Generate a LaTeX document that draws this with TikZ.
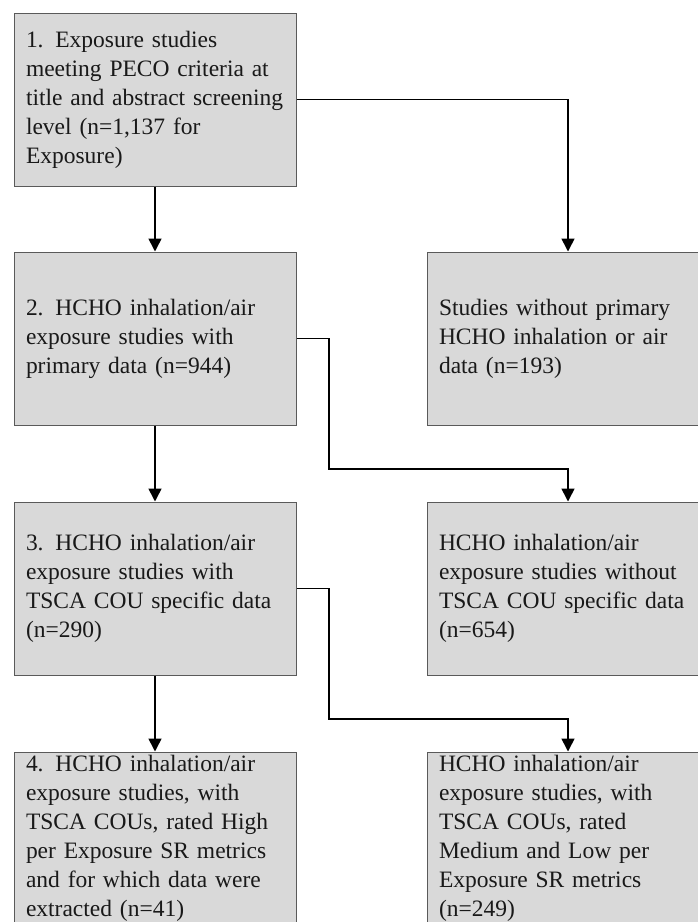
\documentclass[tikz,border=0pt]{standalone}
\usepackage{fontspec}
\setmainfont{Liberation Serif}
\usepackage{xcolor}
\usetikzlibrary{arrows.meta}

\definecolor{boxfill}{HTML}{D9D9D9}
\definecolor{boxline}{HTML}{5A5A5A}

\tikzset{
  box/.style={draw=boxline, fill=boxfill, line width=1pt,
    minimum width=282pt, minimum height=173pt,
    inner xsep=12pt, inner ysep=0pt, text width=258pt, align=left,
    font=\fontsize{23.5}{29}\selectfont, text=black!90},
  link/.style={line width=1.6pt, -{Triangle[width=13pt,length=13pt]}},
}

\begin{document}
\begin{tikzpicture}[x=1pt, y=-1pt]
  \useasboundingbox (0,0) rectangle (697,922);

  % 1. left column: main path of the screening
  \node[box] (s1) at (155,99.5) {1. Exposure studies\\ meeting PECO criteria at\\ title and abstract screening\\ level (n=1,137 for\\ Exposure)};
  \node[box] (s2) at (155,338.5) {2. HCHO inhalation/air\\ exposure studies with\\ primary data (n=944)};
  \node[box] (s3) at (155,588.5) {3. HCHO inhalation/air\\ exposure studies with\\ TSCA COU specific data\\ (n=290)};
  \node[box] (s4) at (155,838.5) {4. HCHO inhalation/air\\ exposure studies, with\\ TSCA COUs, rated High\\ per Exposure SR metrics\\ and for which data were\\ extracted (n=41)};

  % 2. right column: studies set aside
  \node[box] (x1) at (568,338.5) {Studies without primary\\ HCHO inhalation or air\\ data (n=193)};
  \node[box] (x2) at (568,588.5) {HCHO inhalation/air\\ exposure studies without\\ TSCA COU specific data\\ (n=654)};
  \node[box] (x3) at (568,838.5) {HCHO inhalation/air\\ exposure studies, with\\ TSCA COUs, rated\\ Medium and Low per\\ Exposure SR metrics\\ (n=249)};

  % 3. elbows of the side branches
  \coordinate (k2) at (329,469);
  \coordinate (k3) at (329,719);

  % 4. connectors
  \draw[link] (s1) -- (s2);
  \draw[link] (s2) -- (s3);
  \draw[link] (s3) -- (s4);

  \draw[link] (s1.east) -| (x1.north);
  \draw[link] (s2.east) -| (k2) -| (x2.north);
  \draw[link] (s3.east) -| (k3) -| (x3.north);

\end{tikzpicture}
\end{document}
